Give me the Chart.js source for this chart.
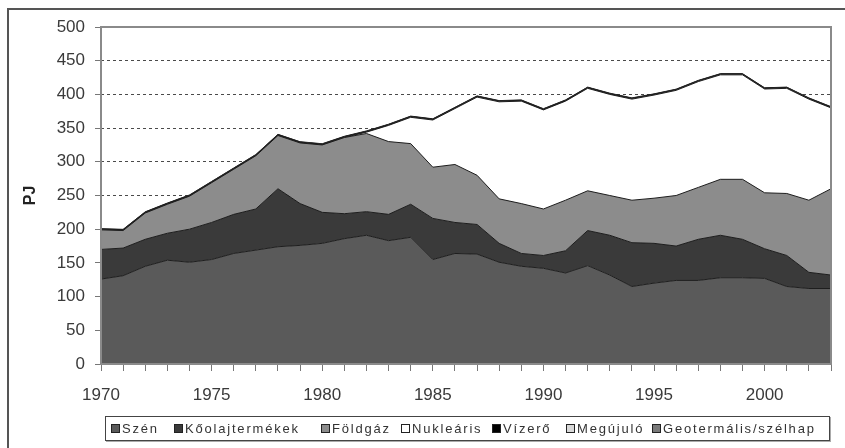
<!DOCTYPE html>
<html>
<head>
<meta charset="utf-8">
<script src="https://cdn.jsdelivr.net/npm/chart.js@4.4.1/dist/chart.umd.min.js"></script>
<style>
  html, body { margin: 0; padding: 0; background: #fff; }
  #wrap { position: relative; width: 845px; height: 448px; overflow: hidden; }
  #frame { position: absolute; left: 7px; top: 8px; width: 900px; height: 500px; border-left: 2px solid #555; border-top: 2px solid #555; }
  #chart { position: absolute; left: 0; top: 0; }
  #legend { position: absolute; left: 105px; top: 416px; width: 723px; height: 23px; border: 1px solid #444; box-shadow: 1px 1px 0 #aaa; font: 13px "Liberation Sans", Arial, sans-serif; color: #333; }
  .item { position: absolute; top: 4px; white-space: nowrap; letter-spacing: 1.8px; }
  .sw { display: inline-block; width: 7px; height: 7px; border: 1px solid #222; margin-right: 2px; vertical-align: 0px; }
</style>
</head>
<body>
<div id="wrap">
  <div id="frame"></div>
  <canvas id="chart" width="845" height="448"></canvas>
  <div id="legend"></div>
</div>
<script>
const YEARS = [1970,1971,1972,1973,1974,1975,1976,1977,1978,1979,1980,1981,1982,1983,1984,1985,1986,1987,1988,1989,1990,1991,1992,1993,1994,1995,1996,1997,1998,1999,2000,2001,2002,2003];

const SERIES_NAMES = ['Szén','Kőolajtermékek','Földgáz','Nukleáris','Vízerő','Megújuló','Geotermális/szélhap'];

// PJ
const SZEN      = [126,131,145,154,151,155,164,169,174,176,179,186,191,183,188,155,164,163,151,145,142,135,146,132,115,120,124,124,128,128,127,115,112,112];
const KOOLAJ    = [44,41,40,40,49,55,58,61,86,62,46,37,35,39,49,61,46,44,28,19,19,33,52,59,65,59,51,61,63,57,44,46,24,20];
const FOLDGAZ   = [29,26,39,43,49,59,67,79,79,90,100,113,116,108,90,76,86,73,66,74,69,75,59,59,63,67,75,77,83,89,83,92,107,128];
const NUKLEARIS = [0,0,0,0,0,0,0,0,0,0,0,0,2,24,39,70,83,116,144,152,147,147,152,150,150,153,156,157,155,155,154,156,150,120];
const VIZERO    = [0.5,0.5,0.5,0.5,0.5,0.5,0.5,0.5,0.5,0.5,0.5,0.5,0.5,0.5,0.5,0.5,0.5,0.5,0.5,0.5,0.5,0.5,0.5,0.5,0.5,0.5,0.5,0.5,0.5,0.5,0.5,0.5,0.5,0.5];
const MEGUJULO  = [0.8,0.8,0.8,0.8,0.8,0.8,0.8,0.8,0.8,0.8,0.8,0.8,0.8,0.8,0.8,0.8,0.8,0.8,0.8,0.8,0.8,0.8,0.8,0.8,0.8,0.8,0.8,0.8,0.8,0.8,0.8,0.8,0.8,0.8];
const GEOTERM   = [0.5,0.5,0.5,0.5,0.5,0.5,0.5,0.5,0.5,0.5,0.5,0.5,0.5,0.5,0.5,0.5,0.5,0.5,0.5,0.5,0.5,0.5,0.5,0.5,0.5,0.5,0.5,0.5,0.5,0.5,0.5,0.5,0.5,0.5];

const SERIES_DATA = [SZEN, KOOLAJ, FOLDGAZ, NUKLEARIS, VIZERO, MEGUJULO, GEOTERM];
const FILLS = ['#5a5a5a','#3a3a3a','#8c8c8c','#ffffff','#000000','#d8d8d8','#7a7a7a'];
const LEGEND_LEFT = [5, 68, 215, 295, 386, 460, 546];

const TEXT = '#3a3a3a';
const FONT = '"Liberation Sans", Arial, sans-serif';

// frame around the plot area, drawn over the areas
const plotFrame = {
    id: 'plotFrame',
    afterDatasetsDraw(chart) {
        const { ctx, chartArea: a } = chart;
        ctx.save();
        ctx.strokeStyle = '#8a8a8a';
        ctx.lineWidth = 2;
        ctx.strokeRect(a.left, a.top, a.right - a.left, a.bottom - a.top);
        ctx.restore();
    }
};

new Chart(document.getElementById('chart'), {
    type: 'line',
    data: {
        labels: YEARS,
        datasets: SERIES_DATA.map((d, i) => ({
            label: SERIES_NAMES[i],
            data: d,
            backgroundColor: FILLS[i],
            borderColor: '#1e1e1e',
            borderWidth: 1,
            fill: i === 0 ? 'origin' : '-1',
            pointRadius: 0,
            tension: 0
        }))
    },
    options: {
        responsive: false,
        animation: false,
        layout: { padding: { left: 17, top: 27, right: 8, bottom: 30 } },
        plugins: { legend: { display: false }, tooltip: { enabled: false } },
        scales: {
            x: {
                grid: { drawOnChartArea: false, drawTicks: true, tickLength: 7, tickColor: '#777', tickWidth: 1 },
                border: { display: false },
                ticks: {
                    autoSkip: false, maxRotation: 0, padding: 14, color: TEXT,
                    font: { family: FONT, size: 17 },
                    callback: (v, i) => YEARS[i] % 5 === 0 ? String(YEARS[i]) : ''
                },
                afterFit(s) { s.height = 54; }
            },
            y: {
                stacked: true, min: 0, max: 500,
                grid: {
                    color: c => (c.tick && c.tick.value > 0 && c.tick.value < 500) ? '#4a4a4a' : 'rgba(0,0,0,0)',
                    tickColor: '#777', tickLength: 6, tickBorderDash: [0, 0]
                },
                border: { display: false, dash: [3, 3] },
                ticks: { stepSize: 50, padding: 10, color: TEXT, font: { family: FONT, size: 17 } },
                title: { display: true, text: 'PJ', color: '#222', font: { family: FONT, size: 16, weight: 'bold' } },
                afterFit(s) { s.width = 84; }
            }
        }
    },
    plugins: [plotFrame]
});

const legend = document.getElementById('legend');
SERIES_NAMES.forEach((name, i) => {
    const el = document.createElement('div');
    el.className = 'item';
    el.style.left = LEGEND_LEFT[i] + 'px';
    el.innerHTML = '<span class="sw" style="background:' + FILLS[i] + '"></span>' + name;
    legend.appendChild(el);
});
</script>
</body>
</html>
